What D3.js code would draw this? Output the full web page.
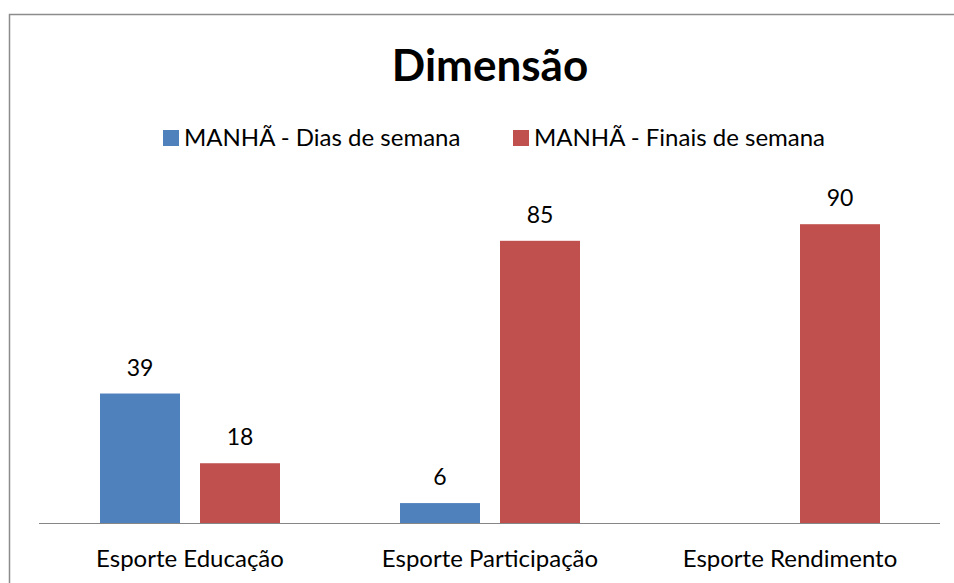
<!DOCTYPE html>
<html><head><meta charset="utf-8">
<script src="https://cdn.jsdelivr.net/npm/d3@7"></script>
<style>body{margin:0;background:#fff}svg{display:block}text{font-family:Lato,"Open Sans",sans-serif}</style>
</head><body><svg id="c" width="954" height="583"></svg>
<script>
const categories = ["Esporte Educação", "Esporte Participação", "Esporte Rendimento"];
const seriesNames = ["MANHÃ - Dias de semana", "MANHÃ - Finais de semana"];
const diasSemana = [39, 6, null];
const finaisSemana = [18, 85, 90];
const colors = ["#4F81BD", "#C0504D"];
const title = "Dimensão";

const svg = d3.select("#c");
const W = 954, H = 583;
svg.append("rect").attr("x",9.5).attr("y",14.5).attr("width",1000).attr("height",1000)
  .attr("fill","#fff").attr("stroke","#8c8c8c").attr("stroke-width",1.5);

const x0 = d3.scaleBand().domain(categories).range([40, 940]).paddingInner(0).paddingOuter(0);
const x1 = d3.scaleBand().domain([0,1]).range([60, 240]).paddingInner(0.2);
const y = d3.scaleLinear().domain([0, 100]).range([523, 191]);

const series = [diasSemana, finaisSemana];
const data = [];
categories.forEach((c,i)=>series.forEach((s,j)=>{ if(s[i]!=null) data.push({c, j, v:s[i]}); }));

const g = svg.append("g");
g.selectAll("rect.bar").data(data).join("rect").attr("class","bar")
  .attr("x", d=>x0(d.c)+x1(d.j)).attr("width", x1.bandwidth())
  .attr("y", d=>y(d.v)).attr("height", d=>y(0)-y(d.v)).attr("fill", d=>colors[d.j]);
g.selectAll("text.val").data(data).join("text").attr("class","val")
  .attr("x", d=>x0(d.c)+x1(d.j)+x1.bandwidth()/2).attr("y", d=>y(d.v)-18)
  .attr("text-anchor","middle").attr("font-size",23).attr("fill","#000").text(d=>d.v);

const axis = d3.axisBottom(x0).tickSize(0).tickPadding(26);
const ax = svg.append("g").attr("transform","translate(0,523)").call(axis);
ax.select(".domain").attr("stroke","#868686").attr("stroke-width",1.2).attr("d","M39,0.5H940");
ax.selectAll("text").attr("font-size",24).attr("fill","#000").attr("dy",0).attr("y",44)
  .style("font-family","Lato, 'Open Sans', sans-serif");

svg.append("text").attr("x",490).attr("y",81).attr("text-anchor","middle").attr("font-size",44)
  .attr("font-weight","bold").attr("fill","#000").text(title);

const legX = [163, 513];
seriesNames.forEach((n,i)=>{
  svg.append("rect").attr("x",legX[i]).attr("y",130).attr("width",16).attr("height",16).attr("fill",colors[i]);
  svg.append("text").attr("x",legX[i]+21).attr("y",146).attr("font-size",24).attr("fill","#000").text(n);
});
</script></body></html>
